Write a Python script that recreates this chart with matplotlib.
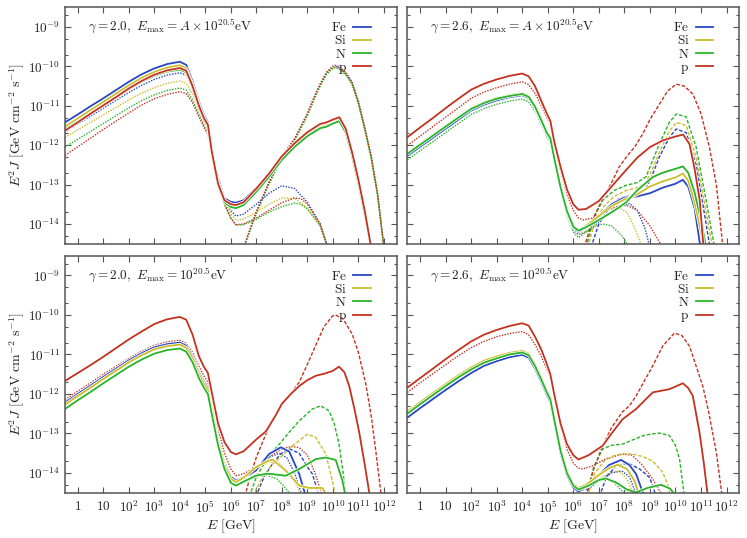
import numpy as np
import matplotlib
matplotlib.use('Agg')
import matplotlib.pyplot as plt
import matplotlib.patheffects as pe
from matplotlib.lines import Line2D
from matplotlib.ticker import FixedLocator, FixedFormatter, NullLocator

plt.rcParams['mathtext.fontset'] = 'cm'
plt.rcParams['font.family'] = 'serif'
plt.rcParams['font.serif'] = ['DejaVu Serif']

# every number below is log10(E / GeV) or log10(E^2 J / GeV cm^-2 s^-1)
species = ['Fe', 'Si', 'N', 'p']
colors = {'Fe': '#2846c8', 'Si': '#cbbd2a', 'N': '#28b428', 'p': '#c4321f'}

# common low-energy grid (up to the dip near 10^6 GeV)
E_LOW = [-0.5, 0.0, 0.5, 1.0, 1.5, 2.0, 2.5, 3.0, 3.5, 4.0, 4.25, 4.5, 4.75, 4.95, 5.1, 5.25, 5.5, 5.75, 6.0, 6.2]

# ---------- (a) gamma = 2.0, Emax = A x 10^20.5 eV ----------
a_tail_x = [6.5, 7.0, 7.5, 8.0, 8.5, 9.0, 9.5, 9.75, 10.0, 10.25, 10.5, 10.75, 11.0, 11.25, 11.5]
a_fe = [-11.42, -11.22, -11.01, -10.81, -10.60, -10.39, -10.20, -10.05, -9.94, -9.88, -9.96, -10.38, -10.90, -11.24, -11.42, -12.10, -12.95, -13.35, -13.44, -13.46,
        -13.40, -13.08, -12.72, -12.30, -11.97, -11.70, -11.50, -11.46, -11.40, -11.34, -11.62, -12.22, -12.92, -13.72, -14.60]
a_si = [-11.53, -11.32, -11.11, -10.90, -10.69, -10.48, -10.29, -10.14, -10.03, -9.97, -10.05, -10.46, -10.97, -11.30, -11.48, -12.16, -13.00, -13.40, -13.52, -13.55,
        -13.48, -13.14, -12.77, -12.34, -12.01, -11.74, -11.54, -11.50, -11.43, -11.37, -11.65, -12.25, -12.95, -13.75, -14.60]
a_n = [-11.60, -11.40, -11.19, -10.99, -10.79, -10.58, -10.39, -10.24, -10.13, -10.08, -10.15, -10.55, -11.05, -11.36, -11.52, -12.20, -13.03, -13.45, -13.57, -13.60,
       -13.52, -13.18, -12.80, -12.37, -12.04, -11.77, -11.57, -11.53, -11.45, -11.39, -11.67, -12.27, -12.97, -13.77, -14.60]
a_p = [-11.63, -11.42, -11.20, -10.99, -10.78, -10.56, -10.37, -10.21, -10.10, -10.04, -10.11, -10.50, -11.00, -11.32, -11.48, -12.15, -12.98, -13.40, -13.50, -13.52,
       -13.45, -13.10, -12.72, -12.28, -11.95, -11.67, -11.46, -11.42, -11.35, -11.29, -11.58, -12.18, -12.88, -13.68, -14.60]

a_lo_x1 = [6.5, 7.0, 7.5, 8.0, 8.5, 9.0, 9.5, 9.8]
a_lo_x2 = [6.5, 7.0, 7.5, 8.0, 8.5, 8.75, 9.0, 9.5, 9.8]
a_fe_lo = [-11.66, -11.46, -11.26, -11.06, -10.86, -10.66, -10.48, -10.33, -10.22, -10.16, -10.22, -10.52, -11.00, -11.35, -11.58, -12.15, -12.80, -13.35, -13.66, -13.80,
           -13.75, -13.50, -13.22, -13.03, -13.10, -13.45, -14.00, -14.60]
a_si_lo = [-11.80, -11.61, -11.42, -11.23, -11.04, -10.85, -10.68, -10.54, -10.43, -10.37, -10.43, -10.70, -11.12, -11.42, -11.62, -12.20, -12.85, -13.42, -13.75, -13.90,
           -13.88, -13.70, -13.50, -13.34, -13.35, -13.60, -14.05, -14.60]
a_n_lo = [-12.05, -11.85, -11.65, -11.45, -11.25, -11.05, -10.87, -10.72, -10.61, -10.55, -10.60, -10.85, -11.22, -11.50, -11.68, -12.25, -12.90, -13.48, -13.85, -14.03,
          -14.02, -13.88, -13.70, -13.56, -13.47, -13.50, -13.62, -14.05, -14.60]
a_p_lo = [-12.26, -12.04, -11.82, -11.60, -11.39, -11.18, -10.98, -10.82, -10.71, -10.64, -10.69, -10.92, -11.28, -11.55, -11.72, -12.28, -12.92, -13.50, -13.86, -14.02,
          -14.00, -13.85, -13.65, -13.46, -13.34, -13.36, -13.50, -14.00, -14.60]

a_hi_x = [6.5, 7.0, 7.5, 8.0, 8.5, 9.0, 9.25, 9.5, 9.75, 10.0, 10.1, 10.25, 10.5, 10.75, 11.0, 11.25, 11.5, 11.75, 12.0]
a_fe_hi = [-14.6, -13.70, -12.95, -12.30, -11.85, -11.22, -10.82, -10.47, -10.17, -10.02, -10.00, -10.04, -10.18, -10.42, -10.92, -11.58, -12.30, -13.25, -14.6]
a_si_hi = [-14.6, -13.72, -12.97, -12.32, -11.87, -11.24, -10.84, -10.49, -10.19, -10.04, -10.02, -10.06, -10.20, -10.44, -10.94, -11.60, -12.32, -13.27, -14.6]
a_n_hi = [-14.6, -13.73, -12.98, -12.33, -11.88, -11.25, -10.85, -10.50, -10.20, -10.05, -10.03, -10.07, -10.21, -10.45, -10.95, -11.61, -12.33, -13.28, -14.6]
a_p_hi = [-14.6, -13.68, -12.93, -12.28, -11.83, -11.19, -10.79, -10.44, -10.14, -9.99, -9.97, -10.01, -10.15, -10.39, -10.89, -11.55, -12.27, -13.22, -14.6]

# ---------- (b) gamma = 2.6, Emax = A x 10^20.5 eV ----------
b_fe_x = [6.5, 7.0, 7.5, 8.0, 8.5, 9.0, 9.5, 10.0, 10.29, 10.5, 10.75, 10.98]
b_fe = [-12.27, -12.04, -11.81, -11.58, -11.35, -11.12, -10.97, -10.86, -10.78, -10.73, -10.80, -11.05, -11.40, -11.70, -11.85, -12.35, -13.10, -13.70, -14.10, -14.20,
        -14.10, -13.80, -13.50, -13.33, -13.30, -13.22, -13.08, -12.98, -12.88, -13.05, -13.60, -14.60]
b_si_x = [6.5, 7.0, 7.5, 8.0, 8.5, 9.0, 9.5, 10.0, 10.29, 10.5, 10.75, 11.0, 11.12]
b_si = [-12.20, -11.97, -11.74, -11.51, -11.28, -11.06, -10.91, -10.80, -10.73, -10.68, -10.75, -11.00, -11.35, -11.65, -11.80, -12.30, -13.05, -13.65, -14.05, -14.17,
        -14.05, -13.80, -13.55, -13.38, -13.25, -13.05, -12.92, -12.82, -12.72, -12.90, -13.45, -14.20, -14.60]
b_n_x = [6.5, 6.76, 7.0, 7.41, 7.75, 8.07, 8.5, 9.11, 9.5, 9.9, 10.29, 10.5, 10.75, 11.0, 11.2]
b_n = [-12.22, -11.99, -11.76, -11.53, -11.30, -11.08, -10.93, -10.82, -10.75, -10.70, -10.77, -11.02, -11.37, -11.67, -11.82, -12.32, -13.07, -13.67, -14.07, -14.17,
       -14.08, -13.99, -13.90, -13.74, -13.60, -13.45, -13.15, -12.81, -12.70, -12.62, -12.54, -12.70, -13.20, -13.90, -14.60]
b_p_x = [6.5, 7.0, 7.5, 8.0, 8.5, 9.0, 9.5, 10.0, 10.3, 10.55, 10.75, 10.95, 11.1]
b_p = [-11.80, -11.55, -11.31, -11.06, -10.82, -10.59, -10.44, -10.33, -10.24, -10.18, -10.25, -10.50, -10.88, -11.18, -11.38, -11.90, -12.55, -13.12, -13.50, -13.64,
       -13.62, -13.42, -13.05, -12.68, -12.32, -12.05, -11.88, -11.78, -11.73, -11.97, -12.60, -13.40, -14.60]

b_fe_lo_x = [6.5, 7.0, 7.5, 8.0, 8.2, 8.5, 8.8, 9.0]
b_fe_lo = [-12.29, -12.06, -11.83, -11.60, -11.37, -11.14, -10.99, -10.88, -10.80, -10.75, -10.82, -11.07, -11.42, -11.72, -11.87, -12.37, -13.12, -13.74, -14.14, -14.27,
           -14.20, -13.95, -13.70, -13.52, -13.48, -13.65, -14.10, -14.60]
b_si_lo_x = [6.5, 7.0, 7.5, 7.8, 8.1, 8.4, 8.7]
b_si_lo = [-12.22, -11.99, -11.76, -11.53, -11.30, -11.08, -10.93, -10.82, -10.75, -10.70, -10.77, -11.02, -11.37, -11.67, -11.82, -12.32, -13.08, -13.70, -14.10, -14.24,
           -14.20, -13.90, -13.68, -13.60, -13.70, -14.10, -14.60]
b_n_lo_x = [6.5, 6.9, 7.15, 7.5, 7.9, 8.2]
b_n_lo = [-12.37, -12.14, -11.91, -11.68, -11.45, -11.22, -11.07, -10.96, -10.88, -10.83, -10.90, -11.14, -11.48, -11.78, -11.93, -12.43, -13.18, -13.80, -14.20, -14.35,
          -14.20, -14.05, -14.00, -14.05, -14.30, -14.60]
b_p_lo_x = [6.4, 6.75, 7.25, 7.75, 8.1, 8.5, 9.0, 9.5]
b_p_lo = [-12.01, -11.77, -11.53, -11.29, -11.05, -10.81, -10.65, -10.54, -10.45, -10.39, -10.46, -10.68, -11.00, -11.28, -11.45, -11.95, -12.65, -13.25, -13.65, -13.85,
          -13.90, -13.85, -13.68, -13.55, -13.53, -13.65, -14.05, -14.60]

b_fe_hi_x = [6.69, 7.0, 7.4, 7.8, 8.1, 8.5, 8.85, 9.1, 9.37, 9.76, 10.03, 10.42, 10.81, 11.15, 11.35]
b_fe_hi = [-14.6, -14.0, -13.6, -13.35, -13.3, -13.25, -13.1, -12.75, -12.3, -11.8, -11.59, -11.68, -12.5, -13.8, -14.6]
b_si_hi_x = [6.55, 6.85, 7.2, 7.6, 8.07, 8.5, 8.85, 9.1, 9.37, 9.76, 10.03, 10.42, 10.81, 11.2, 11.45]
b_si_hi = [-14.6, -13.95, -13.55, -13.3, -13.15, -13.08, -12.95, -12.6, -12.18, -11.65, -11.42, -11.5, -12.3, -13.7, -14.6]
b_n_hi_x = [6.5, 6.8, 7.15, 7.6, 8.07, 8.5, 8.85, 9.1, 9.37, 9.76, 10.03, 10.42, 10.81, 11.2, 11.53]
b_n_hi = [-14.6, -13.85, -13.4, -13.15, -13.02, -12.95, -12.8, -12.4, -11.97, -11.42, -11.21, -11.28, -12.05, -13.4, -14.6]
b_p_hi_x = [6.43, 6.75, 7.15, 7.5, 7.8, 8.1, 8.4, 8.72, 9.0, 9.37, 9.7, 10.03, 10.35, 10.68, 11.0, 11.33, 11.6, 11.86]
b_p_hi = [-14.6, -13.9, -13.36, -12.95, -12.55, -12.28, -12.05, -11.71, -11.35, -10.96, -10.62, -10.45, -10.5, -10.7, -11.2, -12.05, -13.0, -14.6]

# ---------- (c) gamma = 2.0, Emax = 10^20.5 eV ----------
c_fe_x = [6.5, 6.98, 7.5, 7.96, 8.29, 8.68, 8.94]
c_fe = [-12.22, -12.00, -11.79, -11.57, -11.36, -11.15, -10.97, -10.82, -10.74, -10.70, -10.78, -11.05, -11.45, -11.70, -11.85, -12.35, -13.15, -13.75, -14.10, -14.19,
        -14.12, -13.94, -13.52, -13.35, -13.46, -14.03, -14.60]
c_si_x = [6.5, 7.0, 7.37, 7.63, 8.15, 8.68, 9.07, 9.59, 9.78]
c_si = [-12.27, -12.05, -11.84, -11.62, -11.41, -11.20, -11.02, -10.87, -10.79, -10.75, -10.83, -11.10, -11.50, -11.75, -11.90, -12.40, -13.20, -13.80, -14.15, -14.23,
        -14.12, -13.85, -13.72, -13.66, -13.94, -14.32, -14.38, -14.38, -14.60]
c_n_x = [6.5, 6.98, 7.4, 7.63, 8.15, 8.68, 9.33, 9.72, 10.11, 10.37, 10.5]
c_n = [-12.38, -12.16, -11.95, -11.73, -11.52, -11.31, -11.13, -10.98, -10.89, -10.85, -10.93, -11.20, -11.60, -11.85, -12.00, -12.50, -13.30, -13.90, -14.25, -14.32,
       -14.22, -14.07, -14.02, -14.03, -14.07, -13.90, -13.65, -13.61, -13.67, -14.19, -14.60]
c_p_x = [6.5, 7.0, 7.37, 7.75, 8.0, 8.35, 8.68, 9.0, 9.33, 9.7, 9.98, 10.24, 10.45, 10.64, 10.85, 11.03, 11.25, 11.45]
c_p = [-11.67, -11.47, -11.27, -11.06, -10.84, -10.62, -10.42, -10.23, -10.11, -10.05, -10.12, -10.50, -11.05, -11.32, -11.47, -11.95, -12.75, -13.22, -13.47, -13.53,
       -13.45, -13.15, -12.95, -12.55, -12.25, -12.00, -11.80, -11.65, -11.54, -11.48, -11.42, -11.31, -11.45, -11.80, -12.40, -12.97, -13.80, -14.60]

c_fe_lo_x = [6.5, 7.0, 7.5, 7.9, 8.2, 8.5, 8.8]
c_fe_lo = [-12.21, -11.99, -11.78, -11.56, -11.35, -11.14, -10.96, -10.81, -10.73, -10.69, -10.77, -11.03, -11.42, -11.68, -11.83, -12.33, -13.13, -13.74, -14.09, -14.18,
           -14.10, -13.90, -13.60, -13.50, -13.62, -14.00, -14.60]
c_si_lo_x = [6.5, 7.0, 7.5, 7.9, 8.3, 8.6, 8.8]
c_si_lo = [-12.27, -12.05, -11.84, -11.62, -11.41, -11.20, -11.02, -10.87, -10.79, -10.75, -10.83, -11.10, -11.50, -11.75, -11.90, -12.40, -13.20, -13.80, -14.15, -14.24,
           -14.15, -13.88, -13.72, -13.75, -14.00, -14.35, -14.60]
c_n_lo_x = [6.5, 7.0, 7.4, 7.8, 8.1, 8.4]
c_n_lo = [-12.38, -12.16, -11.95, -11.73, -11.52, -11.31, -11.13, -10.98, -10.89, -10.85, -10.93, -11.20, -11.60, -11.85, -12.00, -12.50, -13.30, -13.90, -14.26, -14.33,
          -14.25, -14.10, -14.05, -14.15, -14.35, -14.60]
c_p_lo_x = [6.5, 7.0, 7.5, 8.02, 8.4, 8.68, 9.0, 9.3, 9.59]
c_p_lo = [-12.15, -11.93, -11.72, -11.50, -11.30, -11.10, -10.92, -10.77, -10.68, -10.64, -10.72, -10.95, -11.30, -11.55, -11.70, -12.15, -12.90, -13.50, -13.90, -14.07,
          -14.02, -13.85, -13.60, -13.38, -13.33, -13.36, -13.55, -14.00, -14.60]

c_fe_hi_x = [6.98, 7.3, 7.63, 7.95, 8.29, 8.68, 9.0, 9.2, 9.46]
c_fe_hi = [-14.6, -14.1, -13.77, -13.52, -13.39, -13.5, -13.85, -14.03, -14.6]
c_si_hi_x = [6.85, 7.2, 7.6, 8.02, 8.35, 8.68, 9.0, 9.33, 9.72, 9.98, 10.1]
c_si_hi = [-14.6, -14.15, -13.8, -13.56, -13.35, -13.18, -13.02, -13.1, -13.52, -14.19, -14.6]
c_n_hi_x = [6.72, 7.0, 7.37, 7.7, 8.02, 8.35, 8.68, 9.2, 9.52, 9.85, 10.05, 10.24, 10.4, 10.5]
c_n_hi = [-14.6, -14.1, -13.69, -13.42, -13.18, -12.92, -12.68, -12.38, -12.3, -12.43, -12.75, -13.27, -14.0, -14.6]
c_p_hi_x = [6.55, 6.75, 7.0, 7.37, 7.7, 8.02, 8.35, 8.68, 9.0, 9.33, 9.65, 9.98, 10.1, 10.4, 10.76, 11.0, 11.29, 11.5, 11.68, 11.9]
c_p_hi = [-14.6, -14.1, -13.6, -13.02, -12.6, -12.26, -12.0, -11.7, -11.25, -10.76, -10.3, -10.03, -10.0, -10.1, -10.49, -10.95, -11.75, -12.55, -13.44, -14.6]

# ---------- (d) gamma = 2.6, Emax = 10^20.5 eV ----------
d_fe_x = [6.6, 7.0, 7.4, 7.87, 8.2, 8.46, 8.78]
d_fe = [-12.60, -12.36, -12.13, -11.90, -11.68, -11.47, -11.29, -11.17, -11.07, -11.01, -11.08, -11.35, -11.70, -12.00, -12.20, -12.70, -13.50, -14.05, -14.37, -14.47,
        -14.32, -14.05, -13.80, -13.67, -13.80, -14.03, -14.60]
d_si_x = [6.5, 7.0, 7.4, 7.74, 8.1, 8.4, 8.59]
d_si = [-12.45, -12.21, -11.98, -11.75, -11.53, -11.33, -11.16, -11.05, -10.96, -10.91, -10.98, -11.25, -11.60, -11.90, -12.10, -12.60, -13.40, -13.95, -14.28, -14.38,
        -14.30, -14.05, -13.88, -13.79, -13.90, -14.20, -14.60]
d_n_x = [6.6, 7.0, 7.28, 7.7, 8.1, 8.46, 8.9, 9.44, 9.8, 10.03]
d_n = [-12.50, -12.26, -12.03, -11.80, -11.58, -11.38, -11.21, -11.10, -11.00, -10.95, -11.02, -11.29, -11.64, -11.94, -12.14, -12.64, -13.44, -14.00, -14.32, -14.42,
       -14.32, -14.18, -14.14, -14.25, -14.42, -14.49, -14.38, -14.30, -14.40, -14.60]
d_p_x = [6.6, 7.15, 7.5, 7.93, 8.46, 9.11, 9.76, 10.29, 10.5, 10.68, 10.94, 11.1, 11.27]
d_p = [-11.84, -11.60, -11.36, -11.12, -10.89, -10.67, -10.50, -10.38, -10.28, -10.21, -10.27, -10.55, -10.88, -11.22, -11.50, -12.00, -12.75, -13.27, -13.55, -13.66,
       -13.55, -13.31, -13.00, -12.64, -12.38, -11.96, -11.88, -11.73, -11.85, -12.05, -12.97, -13.70, -14.60]

d_fe_lo_x = [6.6, 7.0, 7.5, 7.9, 8.2, 8.5]
d_fe_lo = [-12.59, -12.35, -12.12, -11.89, -11.67, -11.46, -11.28, -11.16, -11.06, -11.00, -11.07, -11.34, -11.69, -11.99, -12.19, -12.69, -13.49, -14.04, -14.36, -14.46,
           -14.40, -14.20, -14.00, -13.95, -14.10, -14.60]
d_si_lo_x = [6.6, 7.0, 7.5, 7.8, 8.1, 8.4]
d_si_lo = [-12.44, -12.20, -11.97, -11.74, -11.52, -11.32, -11.15, -11.04, -10.95, -10.90, -10.97, -11.24, -11.59, -11.89, -12.09, -12.59, -13.39, -13.94, -14.27, -14.37,
           -14.35, -14.15, -13.98, -13.95, -14.15, -14.60]
d_n_lo_x = [6.6, 7.0, 7.28, 7.6, 7.9, 8.2]
d_n_lo = [-12.51, -12.27, -12.04, -11.81, -11.59, -11.39, -11.22, -11.11, -11.01, -10.96, -11.03, -11.30, -11.65, -11.95, -12.15, -12.65, -13.45, -14.01, -14.33, -14.43,
          -14.35, -14.20, -14.15, -14.25, -14.45, -14.60]
d_p_lo_x = [6.36, 6.75, 7.25, 7.93, 8.3, 8.7, 9.11, 9.5]
d_p_lo = [-11.96, -11.72, -11.49, -11.26, -11.03, -10.83, -10.67, -10.55, -10.47, -10.42, -10.50, -10.75, -11.05, -11.35, -11.55, -12.05, -12.80, -13.40, -13.75, -13.88,
          -13.90, -13.82, -13.65, -13.52, -13.55, -13.80, -14.15, -14.60]

d_fe_hi_x = [7.02, 7.3, 7.67, 8.0, 8.2, 8.6, 8.98, 9.1, 9.24]
d_fe_hi = [-14.6, -14.1, -13.82, -13.77, -13.77, -13.9, -14.11, -14.3, -14.6]
d_si_hi_x = [6.55, 6.85, 7.2, 7.6, 7.93, 8.3, 8.7, 9.11, 9.5, 9.7, 9.83]
d_si_hi = [-14.6, -14.0, -13.7, -13.56, -13.52, -13.52, -13.58, -13.7, -13.98, -14.3, -14.6]
d_n_hi_x = [6.5, 6.8, 7.15, 7.5, 7.93, 8.3, 8.72, 9.0, 9.37, 9.76, 10.0, 10.16, 10.35]
d_n_hi = [-14.6, -13.85, -13.39, -13.3, -13.27, -13.17, -13.06, -13.02, -12.99, -13.05, -13.3, -13.65, -14.6]
d_p_hi_x = [6.5, 6.8, 7.15, 7.5, 7.93, 8.2, 8.46, 8.8, 9.11, 9.5, 9.96, 10.25, 10.55, 11.07, 11.3, 11.6, 11.83]
d_p_hi = [-14.6, -13.9, -13.31, -12.85, -12.45, -12.3, -12.05, -11.65, -11.29, -10.79, -10.46, -10.52, -10.79, -11.8, -12.45, -13.48, -14.6]

titles = [r'$\gamma = 2.0,\ E_{\rm max} = A \times 10^{20.5}{\rm eV}$',
          r'$\gamma = 2.6,\ E_{\rm max} = A \times 10^{20.5}{\rm eV}$',
          r'$\gamma = 2.0,\ E_{\rm max} = 10^{20.5}{\rm eV}$',
          r'$\gamma = 2.6,\ E_{\rm max} = 10^{20.5}{\rm eV}$']

# per panel: solid totals, dotted low-energy part, dashed high-energy part  (x, y, species)
panels = [
    dict(solid=[(E_LOW + a_tail_x, a_fe, 'Fe'), (E_LOW + a_tail_x, a_si, 'Si'), (E_LOW + a_tail_x, a_n, 'N'), (E_LOW + a_tail_x, a_p, 'p')],
         lo=[(E_LOW + a_lo_x1, a_fe_lo, 'Fe'), (E_LOW + a_lo_x1, a_si_lo, 'Si'), (E_LOW + a_lo_x2, a_n_lo, 'N'), (E_LOW + a_lo_x2, a_p_lo, 'p')],
         hi=[(a_hi_x, a_fe_hi, 'Fe'), (a_hi_x, a_si_hi, 'Si'), (a_hi_x, a_n_hi, 'N'), (a_hi_x, a_p_hi, 'p')],
         hi_dotted=True),
    dict(solid=[(E_LOW + b_fe_x, b_fe, 'Fe'), (E_LOW + b_si_x, b_si, 'Si'), (E_LOW + b_n_x, b_n, 'N'), (E_LOW + b_p_x, b_p, 'p')],
         lo=[(E_LOW + b_fe_lo_x, b_fe_lo, 'Fe'), (E_LOW + b_si_lo_x, b_si_lo, 'Si'), (E_LOW + b_n_lo_x, b_n_lo, 'N'), (E_LOW + b_p_lo_x, b_p_lo, 'p')],
         hi=[(b_fe_hi_x, b_fe_hi, 'Fe'), (b_si_hi_x, b_si_hi, 'Si'), (b_n_hi_x, b_n_hi, 'N'), (b_p_hi_x, b_p_hi, 'p')],
         hi_dotted=False),
    dict(solid=[(E_LOW + c_fe_x, c_fe, 'Fe'), (E_LOW + c_si_x, c_si, 'Si'), (E_LOW + c_n_x, c_n, 'N'), (E_LOW + c_p_x, c_p, 'p')],
         lo=[(E_LOW + c_fe_lo_x, c_fe_lo, 'Fe'), (E_LOW + c_si_lo_x, c_si_lo, 'Si'), (E_LOW + c_n_lo_x, c_n_lo, 'N'), (E_LOW + c_p_lo_x, c_p_lo, 'p')],
         hi=[(c_fe_hi_x, c_fe_hi, 'Fe'), (c_si_hi_x, c_si_hi, 'Si'), (c_n_hi_x, c_n_hi, 'N'), (c_p_hi_x, c_p_hi, 'p')],
         hi_dotted=False),
    dict(solid=[(E_LOW + d_fe_x, d_fe, 'Fe'), (E_LOW + d_si_x, d_si, 'Si'), (E_LOW + d_n_x, d_n, 'N'), (E_LOW + d_p_x, d_p, 'p')],
         lo=[(E_LOW + d_fe_lo_x, d_fe_lo, 'Fe'), (E_LOW + d_si_lo_x, d_si_lo, 'Si'), (E_LOW + d_n_lo_x, d_n_lo, 'N'), (E_LOW + d_p_lo_x, d_p_lo, 'p')],
         hi=[(d_fe_hi_x, d_fe_hi, 'Fe'), (d_si_hi_x, d_si_hi, 'Si'), (d_n_hi_x, d_n_hi, 'N'), (d_p_hi_x, d_p_hi, 'p')],
         hi_dotted=False),
]

DOT = (0, (1.0, 1.0))
DASH = (0, (2.6, 1.3))
FRAME = '#555555'
TXT = '#222222'

fig = plt.figure(figsize=(7.47, 5.38), dpi=100)
W, H = 747.0, 538.0
boxes = [(65, 7.4, 331.7, 236.2), (407.3, 7.4, 332, 236.2),
         (65, 255.7, 331.7, 237), (407.3, 255.7, 332, 237)]

xticks = [10.0 ** k for k in range(13)]
xlabels = ['$1$', '$10$'] + ['$10^{%d}$' % k for k in range(2, 13)]
yticks = [10.0 ** k for k in range(-14, -8)]
ylabels = ['$10^{%d}$' % k for k in range(-14, -8)]
yminor = [m * 10.0 ** k for k in range(-15, -8) for m in (2, 5)]

halo = [pe.Stroke(linewidth=2.4, foreground='white'), pe.Normal()]

for i, (pan, box) in enumerate(zip(panels, boxes)):
    x0, y0, w, h = box
    ax = fig.add_axes([x0 / W, 1 - (y0 + h) / H, w / W, h / H])
    ax.set_xscale('log')
    ax.set_yscale('log')

    for x, y, s in pan['lo']:
        ax.plot(10 ** np.array(x), 10 ** np.array(y), color=colors[s], lw=1.0, ls=DOT)
    for x, y, s in pan['hi']:
        ax.plot(10 ** np.array(x), 10 ** np.array(y), color=colors[s], lw=1.0,
                ls=DOT if pan['hi_dotted'] else DASH)
    for x, y, s in pan['solid']:
        ax.plot(10 ** np.array(x), 10 ** np.array(y), color=colors[s], lw=1.3,
                path_effects=halo, solid_capstyle='round', solid_joinstyle='round')

    ax.set_xlim(10 ** -0.5, 10 ** 12.5)
    ax.set_ylim(10 ** -14.5, 10 ** -8.5)
    ax.xaxis.set_major_locator(FixedLocator(xticks))
    ax.xaxis.set_minor_locator(NullLocator())
    ax.yaxis.set_major_locator(FixedLocator(yticks))
    ax.yaxis.set_minor_locator(FixedLocator(yminor))
    ax.xaxis.set_major_formatter(FixedFormatter(xlabels))
    ax.yaxis.set_major_formatter(FixedFormatter(ylabels))
    ax.tick_params(which='both', direction='in', top=True, right=True, color=FRAME,
                   labelcolor=TXT, labelsize=9.5, width=0.8)
    ax.tick_params(which='major', length=4)
    ax.tick_params(which='minor', length=2)
    ax.tick_params(axis='x', pad=5)
    for sp in ax.spines.values():
        sp.set_color(FRAME)
        sp.set_linewidth(1.1)
    if i < 2:
        ax.tick_params(axis='x', labelbottom=False)
    else:
        ax.set_xlabel(r'$E\ [\mathrm{GeV}]$', fontsize=10, color=TXT, labelpad=1)
    if i % 2 == 1:
        ax.tick_params(axis='y', labelleft=False)
    else:
        ax.set_ylabel(r'$E^2 J\ [\mathrm{GeV\ cm^{-2}\ s^{-1}}]$', fontsize=10, color=TXT, labelpad=1)

    ax.text(0.068, 0.92, titles[i], transform=ax.transAxes, fontsize=9.5, color=TXT,
            ha='left', va='center')
    handles = [Line2D([], [], color=colors[s], lw=1.3) for s in species]
    ax.legend(handles, [r'$\mathrm{%s}$' % s for s in species], loc='upper right',
              bbox_to_anchor=(0.945, 0.975), frameon=False, markerfirst=False,
              fontsize=9.5, handlelength=1.3, handletextpad=0.5, labelspacing=0.02,
              borderaxespad=0.2, labelcolor=TXT)

fig.savefig('out.png', dpi=100)
